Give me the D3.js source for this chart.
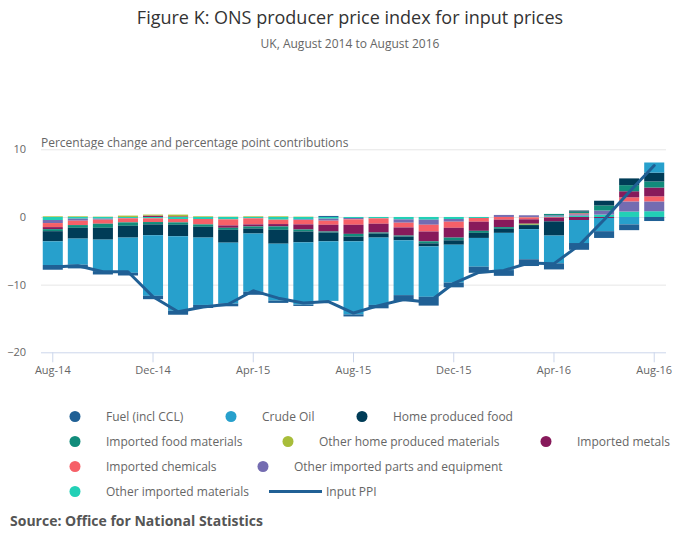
<!DOCTYPE html>
<html>
<head>
<meta charset="utf-8">
<script src="https://cdn.jsdelivr.net/npm/d3@7"></script>
<style>
  html, body { margin: 0; padding: 0; background: #fff; }
  svg { display: block; font-family: "Open Sans", "Noto Sans", sans-serif; }
</style>
</head>
<body>
<svg id="chart" width="700" height="549"></svg>
<script>
// ---- Data ----
const months = ["Aug-14","Sep-14","Oct-14","Nov-14","Dec-14","Jan-15","Feb-15","Mar-15","Apr-15","May-15","Jun-15","Jul-15","Aug-15","Sep-15","Oct-15","Nov-15","Dec-15","Jan-16","Feb-16","Mar-16","Apr-16","May-16","Jun-16","Jul-16","Aug-16"];
const tickLabels = ["Aug-14","Dec-14","Apr-15","Aug-15","Dec-15","Apr-16","Aug-16"];
const yTicks = [10, 0, -10, -20];

const fuel      = [-0.7,-0.55,-0.5,-0.4,-0.5,-0.6,-0.45,-0.4,-0.45,-0.35,-0.2,0.15,-0.3,-0.5,-0.9,-1.3,-0.7,-0.9,-0.85,-1.0,-0.9,-1.0,-1.0,-0.85,-0.6];
const crudeOil  = [-3.5,-3.85,-4.65,-5.2,-8.95,-11.0,-9.95,-9.0,-8.6,-8.4,-9.2,-8.8,-10.8,-9.95,-8.1,-7.45,-5.6,-4.25,-5.5,-4.45,-4.1,-3.4,-1.95,-1.1,1.5];
const homeFood  = [-1.5,-1.6,-1.75,-1.75,-1.6,-1.7,-1.6,-1.9,-0.75,-2.05,-1.6,-1.3,-0.7,-0.6,-0.55,-0.45,-0.65,-0.75,-0.6,-0.6,-2.1,0.15,0.7,1.0,1.3];
const impFood   = [-0.3,-0.4,-0.6,-0.5,-0.35,-0.35,-0.35,-0.3,-0.3,-0.5,-0.3,-0.15,-0.4,-0.15,-0.15,-0.3,-0.4,-0.3,-0.25,-0.05,0.2,0.25,0.75,0.9,0.9];
const otherHome = [0.1,0.1,0.05,0.2,0.15,0.25,0.1,0.05,0.1,0.1,0.05,0,0,0,0,0,0,0,0,-0.15,0,0,0,0,0];
const impMetals = [-0.3,0,0,0,0.2,0.1,0,-0.35,-0.3,-0.35,-0.75,-1.0,-1.35,-1.3,-1.2,-1.45,-1.45,-1.35,-1.1,-0.65,-0.55,-0.45,-0.15,0.9,1.3];
const impChem   = [-0.6,-0.65,-0.6,-0.6,-0.55,-0.5,-0.8,-0.9,-0.9,-0.65,-0.65,-0.6,-0.8,-0.8,-0.7,-1.0,-0.9,-0.55,-0.4,-0.3,-0.1,0.15,0,0.6,0.75];
const impParts  = [-0.45,-0.3,-0.15,-0.05,0,0,0,0,0,0,-0.1,-0.3,-0.2,0,-0.5,-0.75,-0.4,0,0.3,0.25,0.15,0.2,0.6,1.5,1.45];
const impOther  = [-0.45,-0.25,-0.25,-0.15,-0.2,-0.3,-0.3,-0.35,-0.2,-0.4,-0.35,-0.25,-0.15,-0.2,-0.35,-0.4,-0.3,-0.15,0,-0.05,0.1,0.2,0.35,0.8,0.85];
const inputPPI  = [-7.4,-7.2,-8.1,-8.1,-11.8,-14.0,-13.3,-12.9,-10.9,-12.0,-12.7,-12.5,-14.2,-13.1,-12.2,-12.6,-9.8,-8.2,-7.9,-6.8,-6.9,-4.2,-0.4,3.7,7.6];

const seriesNames  = ["Fuel (incl CCL)","Crude Oil","Home produced food","Imported food materials","Other home produced materials","Imported metals","Imported chemicals","Other imported parts and equipment","Other imported materials"];
const seriesValues = [fuel, crudeOil, homeFood, impFood, otherHome, impMetals, impChem, impParts, impOther];
const seriesColors = ["#206095","#27a0cc","#003c57","#118c7b","#a8bd3a","#871a5b","#f66068","#746cb1","#22d0b6"];
const lineName = "Input PPI";
const lineColor = "#206095";

(function draw() {
  const rows = months.map((m, i) => {
    const r = { month: m };
    seriesNames.forEach((s, j) => r[s] = seriesValues[j][i]);
    return r;
  });

  const svg = d3.select("#chart");
  const pLeft = 41, pRight = 666, pTop = 149.3, pBottom = 352.3;

  const x = d3.scaleBand().domain(months).range([pLeft, pRight]).paddingInner(0.2).paddingOuter(0.07);
  const y = d3.scaleLinear().domain([-20, 10]).range([pBottom, pTop]);

  // Title
  svg.append("text").attr("x", 350).attr("y", 24).attr("text-anchor", "middle")
    .attr("font-size", 18).attr("fill", "#333").text("Figure K: ONS producer price index for input prices");
  svg.append("text").attr("x", 350).attr("y", 48).attr("text-anchor", "middle")
    .attr("font-size", 12).attr("fill", "#666").text("UK, August 2014 to August 2016");

  // Y axis label
  svg.append("text").attr("x", 41).attr("y", 147).attr("font-size", 12).attr("fill", "#666")
    .text("Percentage change and percentage point contributions");

  // Gridlines + y labels
  const yAxis = d3.axisLeft(y).tickValues(yTicks).tickSize(-(pRight - pLeft)).tickPadding(14);
  const gy = svg.append("g").attr("transform", `translate(${pLeft},0)`).call(yAxis);
  gy.select(".domain").remove();
  gy.selectAll(".tick line").attr("stroke", d => d === -20 ? "none" : "#e6e6e6");
  gy.selectAll(".tick text").attr("font-size", 11).attr("fill", "#666").attr("font-family", "Open Sans").attr("x", -15);

  // X axis
  const xAxis = d3.axisBottom(x).tickValues(tickLabels).tickSize(10).tickPadding(4).tickSizeOuter(0);
  const gx = svg.append("g").attr("transform", `translate(0,${pBottom})`).call(xAxis);
  gx.select(".domain").attr("stroke", "#ccd6eb").attr("d", `M${pLeft},0.5H${pRight}`);
  gx.selectAll(".tick line").attr("stroke", "#ccd6eb");
  gx.selectAll(".tick text").attr("font-size", 11).attr("fill", "#666").attr("font-family", "Open Sans");

  // Stacked bars (last series closest to zero)
  const stackKeys = seriesNames.slice().reverse();
  const stack = d3.stack().keys(stackKeys).offset(d3.stackOffsetDiverging);
  const layers = stack(rows);
  const colorOf = d3.scaleOrdinal().domain(seriesNames).range(seriesColors);

  svg.append("g").selectAll("g").data(layers).join("g")
    .attr("fill", d => colorOf(d.key))
    .selectAll("rect").data(d => d).join("rect")
    .attr("x", d => x(d.data.month))
    .attr("width", x.bandwidth())
    .attr("y", d => y(Math.max(d[0], d[1])))
    .attr("height", d => Math.abs(y(d[0]) - y(d[1])));

  // Line
  const line = d3.line().x((d, i) => x(months[i]) + x.bandwidth() / 2).y(d => y(d));
  svg.append("path").datum(inputPPI).attr("d", line).attr("fill", "none")
    .attr("stroke", lineColor).attr("stroke-width", 3).attr("stroke-linejoin", "round").attr("stroke-linecap", "round");

  // Legend
  const legendItems = [
    { name: seriesNames[0], color: seriesColors[0], mx: 75, row: 0 },
    { name: seriesNames[1], color: seriesColors[1], mx: 231, row: 0 },
    { name: seriesNames[2], color: seriesColors[2], mx: 362, row: 0 },
    { name: seriesNames[3], color: seriesColors[3], mx: 75, row: 1 },
    { name: seriesNames[4], color: seriesColors[4], mx: 288, row: 1 },
    { name: seriesNames[5], color: seriesColors[5], mx: 546, row: 1 },
    { name: seriesNames[6], color: seriesColors[6], mx: 75, row: 2 },
    { name: seriesNames[7], color: seriesColors[7], mx: 263, row: 2 },
    { name: seriesNames[8], color: seriesColors[8], mx: 75, row: 3 }
  ];
  const rowY = [416.5, 441.5, 466.5, 491.5];
  const lg = svg.append("g");
  legendItems.forEach(it => {
    lg.append("circle").attr("cx", it.mx).attr("cy", rowY[it.row]).attr("r", 5.5).attr("fill", it.color);
    lg.append("text").attr("x", it.mx + 31).attr("y", rowY[it.row]).attr("dy", "0.35em")
      .attr("font-size", 12).attr("fill", "#666").text(it.name);
  });
  lg.append("line").attr("x1", 269).attr("x2", 322).attr("y1", rowY[3]).attr("y2", rowY[3])
    .attr("stroke", lineColor).attr("stroke-width", 3);
  lg.append("text").attr("x", 326).attr("y", rowY[3]).attr("dy", "0.35em")
    .attr("font-size", 12).attr("fill", "#666").text(lineName);

  // Source
  svg.append("text").attr("x", 10).attr("y", 526).attr("font-size", 14).attr("font-weight", "bold")
    .attr("fill", "#555").text("Source: Office for National Statistics");
})();
</script>
</body>
</html>
